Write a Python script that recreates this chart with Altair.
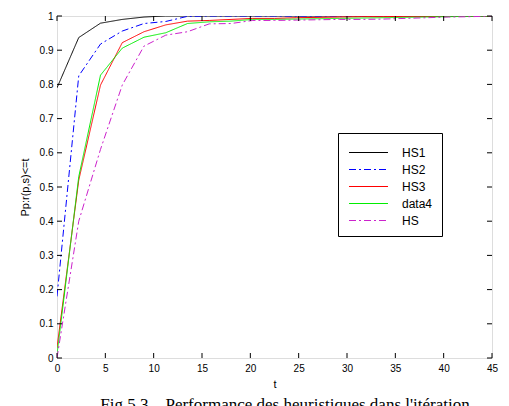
import altair as alt
import pandas as pd

t = [0, 2.25, 4.5, 6.75, 9, 11.25, 13.5, 15.75, 18, 20.25, 22.5, 24.75, 27,
     29.25, 31.5, 33.75, 36, 38.25, 40.5, 42.75, 45]
hs1 = [0.79, 0.937, 0.979, 0.99, 0.997, 1.0, 1.0, 1.0, 1.0, 1.0, 1.0, 1.0, 1.0,
       1.0, 1.0, 1.0, 1.0, 1.0, 1.0, 1.0, 1.0]
hs2 = [0.18, 0.825, 0.918, 0.956, 0.978, 0.984, 0.999, 1.0, 1.0, 1.0, 1.0, 1.0, 1.0,
       1.0, 1.0, 1.0, 1.0, 1.0, 1.0, 1.0, 1.0]
hs3 = [0.03, 0.52, 0.798, 0.922, 0.954, 0.974, 0.985, 0.987, 0.99, 0.993, 0.993, 0.995,
       0.996, 0.997, 0.998, 0.998, 0.999, 0.999, 1.0, 1.0, 1.0]
data4 = [0.01, 0.53, 0.827, 0.906, 0.938, 0.951, 0.978, 0.983, 0.985, 0.99, 0.99, 0.991,
         0.992, 0.993, 0.994, 0.995, 0.996, 0.997, 0.998, 0.999, 1.0]
hs = [0.0, 0.40, 0.61, 0.798, 0.912, 0.944, 0.954, 0.977, 0.978, 0.987, 0.987, 0.988,
      0.989, 0.99, 0.99, 0.991, 0.993, 0.995, 0.997, 0.998, 1.0]

names = ["HS1", "HS2", "HS3", "data4", "HS"]
colors = ["#000000", "#0000ff", "#ff0000", "#00ee00", "#cc22cc"]
dashes = [[1, 0], [7, 3, 2, 3], [1, 0], [1, 0], [7, 3, 2, 3]]
series = [hs1, hs2, hs3, data4, hs]

x_ticks = [0, 5, 10, 15, 20, 25, 30, 35, 40, 45]
y_ticks = [0, 0.1, 0.2, 0.3, 0.4, 0.5, 0.6, 0.7, 0.8, 0.9, 1]

caption = ["Fig 5.3 – Performance des heuristiques dans l'itération"]

rows = []
for n, vals in zip(names, series):
    for tt, v in zip(t, vals):
        rows.append({"t": tt, "v": v, "s": n})
df = pd.DataFrame(rows)

W, H = 435, 342
FONT = "Liberation Sans"
TK = 5

xs = alt.Scale(domain=[0, 45], nice=False, zero=False)
ys = alt.Scale(domain=[0, 1], nice=False)

x_axis = alt.Axis(orient="bottom", values=x_ticks, ticks=False,
                  domain=False, grid=False, labelPadding=5,
                  labelFlush=False, labelOverlap=False,
                  title="t", titlePadding=5, titleFontWeight="normal")
y_axis = alt.Axis(orient="left", values=y_ticks, ticks=False,
                  format="~g", labelFlush=False, labelOverlap=False,
                  domain=False, grid=False, labelPadding=4,
                  title="Pp:r(p,s)<=t", titlePadding=9, titleFontWeight="normal")

lines = alt.Chart(df).mark_line(strokeWidth=1, clip=True).encode(
    x=alt.X("t:Q", scale=xs, axis=x_axis),
    y=alt.Y("v:Q", scale=ys, axis=y_axis),
    color=alt.Color("s:N", scale=alt.Scale(domain=names, range=colors), title=None,
                    legend=alt.Legend(orient="none", legendX=281, legendY=117,
                                      symbolType="M-2,0H2", symbolSize=380,
                                      symbolStrokeWidth=1, labelFont=FONT,
                                      labelFontSize=12, labelColor="black",
                                      strokeColor="black", fillColor="white",
                                      padding=9, rowPadding=0, labelOffset=23,
                                      symbolOffset=11, labelLimit=200)),
    strokeDash=alt.StrokeDash("s:N", scale=alt.Scale(domain=names, range=dashes),
                              legend=None),
    order="t:Q",
)

xt = pd.DataFrame({"x": x_ticks})
yt = pd.DataFrame({"y": y_ticks})

xtick_bot = alt.Chart(xt).mark_rule(color="black", strokeWidth=1).encode(
    x=alt.X("x:Q", scale=xs, axis=x_axis), y=alt.value(H), y2=alt.value(H - TK))
xtick_top = alt.Chart(xt).mark_rule(color="black", strokeWidth=1).encode(
    x=alt.X("x:Q", scale=xs, axis=x_axis), y=alt.value(0), y2=alt.value(TK))
ytick_left = alt.Chart(yt).mark_rule(color="black", strokeWidth=1).encode(
    y=alt.Y("y:Q", scale=ys, axis=y_axis), x=alt.value(0), x2=alt.value(TK))
ytick_right = alt.Chart(yt).mark_rule(color="black", strokeWidth=1).encode(
    y=alt.Y("y:Q", scale=ys, axis=y_axis), x=alt.value(W), x2=alt.value(W - TK))

cap = alt.Chart(pd.DataFrame({"c": caption})).mark_text(
    font="Liberation Serif", fontSize=17, baseline="top", align="center",
    color="black", clip=False
).encode(text="c:N", x=alt.value(228), y=alt.value(381))

chart = alt.layer(lines, xtick_bot, xtick_top, ytick_left, ytick_right, cap).properties(
    width=W, height=H,
    autosize=alt.AutoSizeParams(type="none"),
    padding={"left": 57, "top": 16, "right": 17, "bottom": 48},
).configure_view(stroke="black", strokeWidth=1).configure_axis(
    labelFont=FONT, labelFontSize=12, labelColor="black",
    titleFont=FONT, titleFontSize=12, titleColor="black", titleFontWeight="normal"
).configure(background="white")

chart.save("out.html", embed_options={"renderer": "svg", "actions": False})
